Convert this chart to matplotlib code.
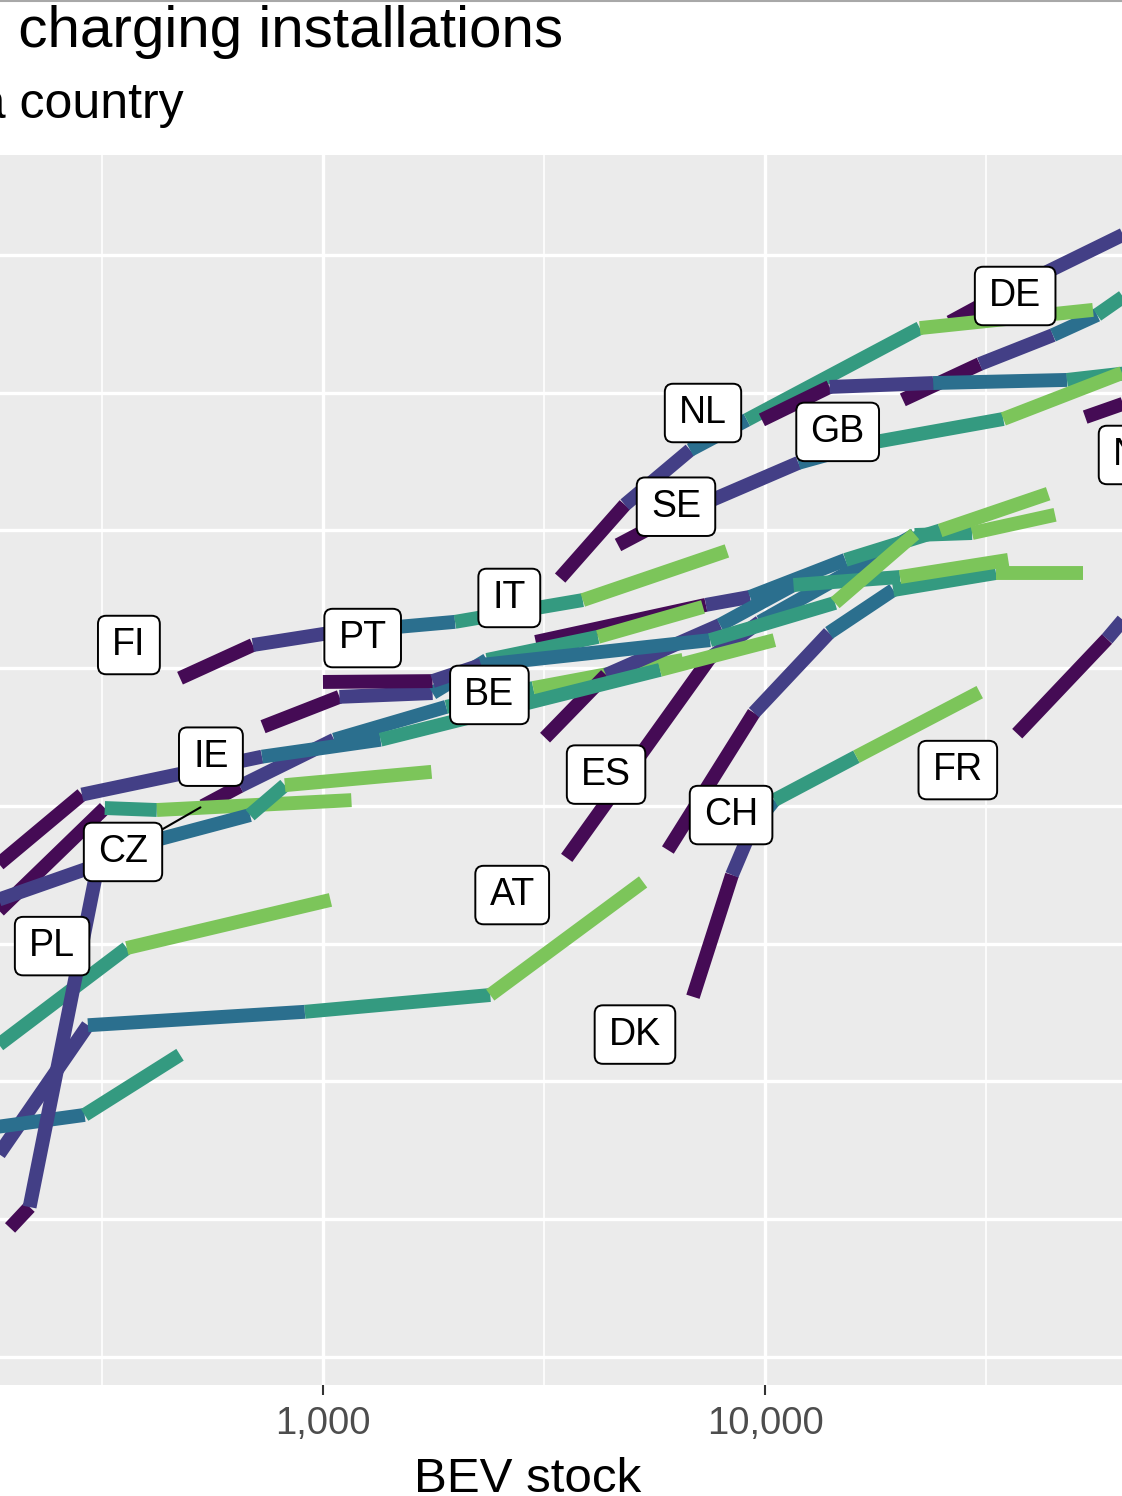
import matplotlib
matplotlib.use("Agg")
import matplotlib.pyplot as plt
from matplotlib.collections import LineCollection
from matplotlib.patches import BoxStyle
from matplotlib.ticker import FixedLocator, NullFormatter, NullLocator, FuncFormatter

# one path per country, one point per year
countries = ["DE", "NO", "NL", "GB", "IT", "SE", "FI", "FR", "CH", "DK", "ES", "AT",
             "BE", "PT", "IE", "CZ", "HU", "PL", "SK", "SI", "LU", "GR", "RO"]

years = [
    [2013, 2014, 2015], [2013, 2014], [2013, 2014, 2015, 2016, 2017],
    [2013, 2014, 2015, 2016, 2017], [2013, 2014, 2015, 2016, 2017, 2018],
    [2013, 2014, 2015, 2016, 2017, 2018], [2013, 2014, 2015, 2016, 2017, 2018],
    [2013, 2014, 2015], [2013, 2014, 2015, 2016, 2017, 2018],
    [2013, 2014, 2015, 2016, 2017, 2018], [2013, 2014, 2015, 2016, 2017, 2018],
    [2013, 2014, 2015, 2016, 2017, 2018], [2013, 2014, 2015, 2016, 2017, 2018],
    [2013, 2014, 2015, 2016, 2017, 2018], [2013, 2014, 2015, 2016, 2017, 2018],
    [2013, 2014, 2015, 2016, 2017, 2018], [2013, 2014, 2015, 2016, 2017, 2018],
    [2013, 2016, 2017, 2018], [2013, 2014, 2015, 2016, 2017, 2018],
    [2014, 2015], [2016, 2017, 2018], [2014, 2015, 2016, 2017, 2018],
    [2015, 2016, 2017],
]

bev_stock = [
    [26200, 34000, 70500], [53000, 70500], [9840, 14000, 24000, 48200, 72400],
    [20500, 30600, 44800, 56400, 70500], [3440, 4820, 6770, 9100, 22400, 55200],
    [4650, 5940, 11900, 17300, 34600, 64200], [475, 694, 1040, 1990, 3870, 8200],
    [37200, 59400, 70500], [6030, 9440, 13960, 19500, 33300, 52400],
    [6870, 8420, 9340, 10500, 16100, 30600], [3180, 4370, 7910, 11600, 20200, 35500],
    [3560, 7510, 9740, 21800, 29400, 45300], [3030, 7350, 9250, 15200, 24900, 43700],
    [1000, 1770, 2280, 7510, 14400, 21800], [732, 1090, 1770, 2350, 4190, 7240],
    [535, 649, 1060, 1900, 2990, 6520], [176, 285, 728, 1350, 5790, 10500],
    [176, 321, 421, 1160], [196, 217, 313, 684, 820, 1760],
    [176, 305], [176, 360, 1040], [176, 294, 910, 2390, 5300],
    [176, 289, 475],
]

chargers = [
    [5710, 7160, 12700], [2580, 3030], [2520, 3320, 3430, 3520, 3790],
    [2980, 4020, 5120, 6060, 7780], [672, 1240, 1960, 2520, 5430, 6320],
    [886, 1090, 1760, 2080, 2540, 3730], [291, 384, 425, 466, 559, 843],
    [183, 404, 559], [69.2, 218, 425, 608, 701, 701],
    [20.3, 56.2, 83.2, 105, 151, 259], [177, 299, 454, 634, 678, 782],
    [64.8, 345, 466, 963, 979, 1140], [394, 537, 574, 782, 1000, 1360],
    [282, 284, 325, 400, 546, 971], [194, 249, 257, 339, 411, 528],
    [100, 118, 174, 229, 268, 339], [57.6, 110, 151, 174, 312, 400],
    [38.6, 98.3, 96.7, 105], [2.94, 3.50, 66.4, 92.7, 119, 133],
    [44.5, 60.6], [12.8, 30.5, 45.6], [4.85, 16.0, 17.9, 20.6, 53.0],
    [6.78, 7.56, 12.5],
]

# repelled label positions
label_names = ["FI", "PT", "IT", "NL", "SE", "DE", "GB", "BE", "IE", "CZ",
               "ES", "CH", "FR", "AT", "PL", "DK", "NO"]
label_x = [364, 1230, 2640, 7240, 6290, 36800, 14600, 2380, 558, 353,
           4370, 8380, 27300, 2680, 244, 5080, 70900]
label_y = [384, 407, 569, 2670, 1220, 7100, 2280, 253, 151, 68.1,
           130, 92.7, 135, 47.5, 31.0, 14.8, 1880]

year_colors = {2013: "#450b55", 2014: "#433f86", 2015: "#2b6f8e",
               2016: "#349a80", 2017: "#7cc55a"}

plt.rcParams['font.family'] = ['Liberation Sans', 'DejaVu Sans']

fig = plt.figure(figsize=(11.22, 14.96), dpi=100)
ax = fig.add_axes([0, 1 - 1385 / 1496, 1, 1230 / 1496])
ax.set_xscale('log')
ax.set_yscale('log')
ax.set_facecolor('#EBEBEB')
for s in ax.spines.values():
    s.set_visible(False)

order = sorted(range(len(countries)), key=lambda i: countries[i])
for i in order:
    xs, ys, yr = bev_stock[i], chargers[i], years[i]
    segs = [[(xs[k], ys[k]), (xs[k + 1], ys[k + 1])] for k in range(len(xs) - 1)]
    cols = [year_colors[y] for y in yr[:-1]]
    ax.add_collection(LineCollection(segs, colors=cols, linewidths=10,
                                     capstyle='butt', zorder=2))

ax.set_xlim(186, 64200)
ax.set_ylim(0.791, 23070)

ax.xaxis.set_major_locator(FixedLocator([1000, 10000]))
ax.xaxis.set_minor_locator(FixedLocator([316.2, 3162, 31620]))
ax.xaxis.set_major_formatter(FuncFormatter(lambda v, p: f'{v:,.0f}'))
ax.xaxis.set_minor_formatter(NullFormatter())
ax.yaxis.set_major_locator(FixedLocator([10 ** (k / 2) for k in range(9)]))
ax.yaxis.set_minor_locator(NullLocator())
ax.yaxis.set_major_formatter(NullFormatter())
ax.grid(which='major', color='white', lw=2.4)
ax.grid(which='minor', axis='x', color='white', lw=1.2)
ax.set_axisbelow(True)
ax.tick_params(axis='x', which='major', length=7, width=1.5, color='#333333',
               labelsize=27.5, labelcolor='#4D4D4D', pad=8)
ax.tick_params(axis='x', which='minor', length=0)
ax.tick_params(axis='y', which='both', length=0)


def label_box(x0, y0, width, height, mutation_size):
    padx = 0.38 * mutation_size
    pady = 0.3 * mutation_size
    return BoxStyle.Round(pad=0, rounding_size=0.22)(
        x0 - padx, y0 - pady, width + 2 * padx, height + 2 * pady, mutation_size)


cz = countries.index("CZ")
for name, lx, ly in zip(label_names, label_x, label_y):
    kw = dict(ha='center', va='center', fontsize=27, zorder=5,
              bbox=dict(boxstyle=label_box, fc='white', ec='black', lw=1.4))
    if name == "CZ":
        ax.annotate(name, xy=(bev_stock[cz][0], chargers[cz][0]), xytext=(lx, ly),
                    arrowprops=dict(arrowstyle='-', color='black', lw=1.5,
                                    shrinkA=0, shrinkB=2), **kw)
    else:
        ax.text(lx, ly, name, **kw)

fig.text(563 / 1122, 1 - 47 / 1496, "BEV stock and charging installations",
         ha='right', va='baseline', fontsize=42)
fig.text(184 / 1122, 1 - 118 / 1496, "Each line represents a country",
         ha='right', va='baseline', fontsize=36)
fig.text(528 / 1122, 4 / 1496, "BEV stock", ha='center', va='baseline', fontsize=35.5)
fig.add_artist(plt.Line2D([0, 1], [1 - 1 / 1496] * 2, color='#a8a8a8', lw=1.5,
                          transform=fig.transFigure))

fig.savefig("out.png", dpi=100)
